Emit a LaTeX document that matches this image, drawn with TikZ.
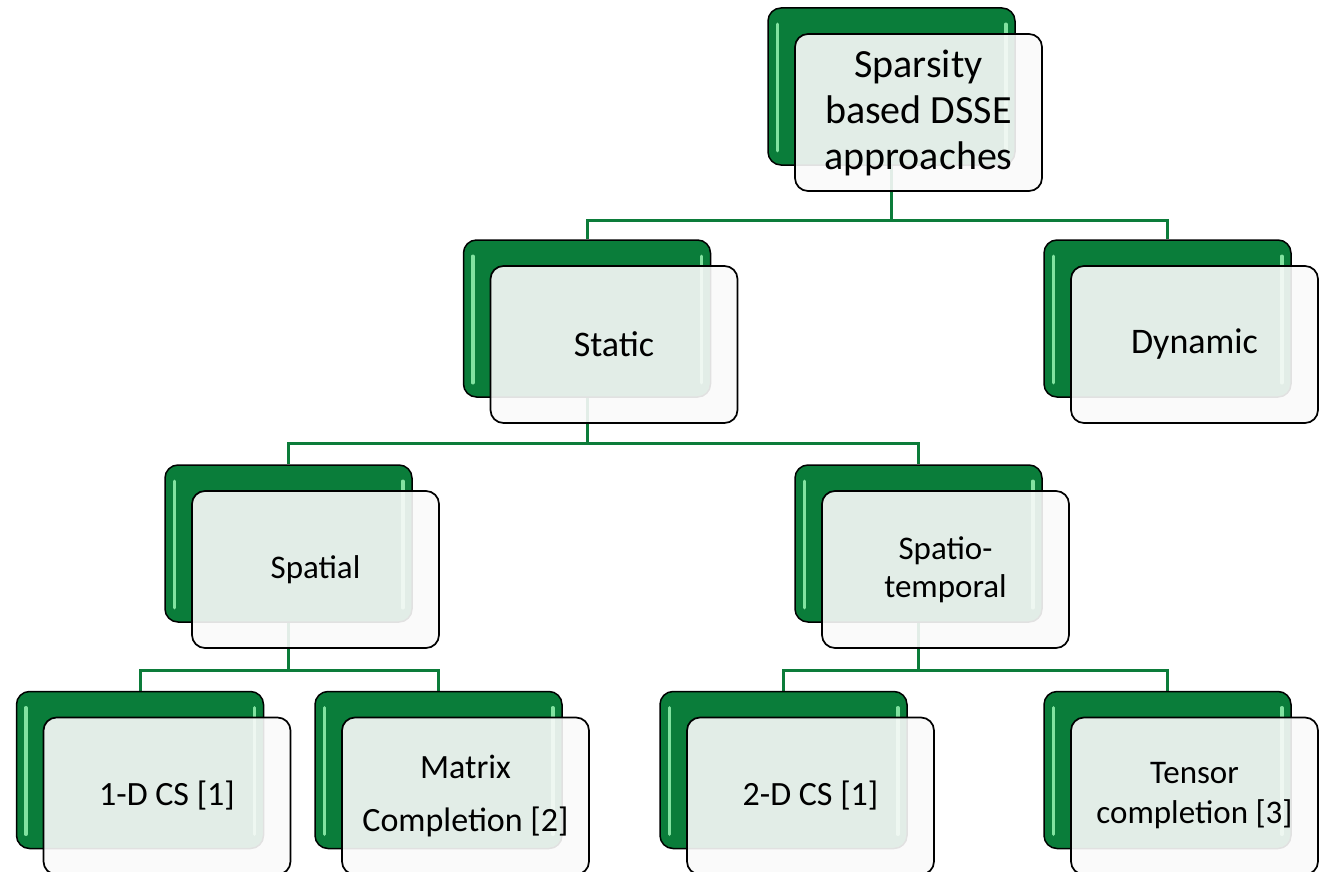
\documentclass[tikz,border=0pt]{standalone}
\usepackage{fontspec}
\setmainfont{Carlito}
\usetikzlibrary{backgrounds}

\definecolor{leafgreen}{RGB}{10,125,58}
\definecolor{shine}{RGB}{130,226,160}
\definecolor{wire}{RGB}{12,124,58}
\definecolor{paper}{RGB}{250,250,250}

\tikzset{
  backbox/.style={draw=black, line width=1.5pt, fill=leafgreen,
    rounded corners=13pt, minimum width=247pt, minimum height=157pt,
    inner sep=0pt},
  frontbox/.style={draw=black, line width=1.7pt, fill=paper,
    fill opacity=0.9, text opacity=1, rounded corners=13pt,
    minimum width=247pt, minimum height=157pt, align=center,
    inner sep=0pt},
  wireline/.style={draw=wire, line width=3pt},
  gleam/.style={draw=shine, line width=3.5pt, line cap=round}
}

% #1 name, #2/#3 centre of the green card, #4 font size, #5 line skip, #6 text
\newcommand\cardpair[6]{%
  \node[backbox] (#1-back) at (#2,#3) {};
  \draw[gleam] ([xshift=10pt,yshift=-17pt]#1-back.north west)
            -- ([xshift=10pt,yshift=15pt]#1-back.south west);
  \draw[gleam] ([xshift=-10pt,yshift=-17pt]#1-back.north east)
            -- ([xshift=-10pt,yshift=15pt]#1-back.south east);
  \node[frontbox, font=\fontsize{#4}{#5}\selectfont] (#1) at (#2+27,#3+26) {#6};
}

\begin{document}
\begin{tikzpicture}[x=1pt,y=-1pt]
  \useasboundingbox (0,0) rectangle (1325,872);

  \cardpair{root}{891.5}{86.5}{40}{46}{Sparsity\\based DSSE\\approaches}
  \cardpair{static}{587}{318.5}{36}{40}{Static}
  \cardpair{dynamic}{1167.5}{318.5}{36}{40}{Dynamic}
  \cardpair{spatial}{288.5}{543.5}{33}{36}{Spatial}
  \cardpair{spatio}{918.5}{543.5}{33}{38}{Spatio-\\temporal}
  \cardpair{oned}{140}{770}{34}{38}{1-D CS [1]}
  \cardpair{matrix}{438.5}{770}{34}{53}{Matrix\\Completion [2]}
  \cardpair{twod}{783.5}{770}{34}{38}{2-D CS [1]}
  \cardpair{tensor}{1167.5}{770}{33}{40}{Tensor\\completion [3]}

  \begin{scope}[on background layer]
    \draw[wireline] (root-back.south) -- (root-back.south |- 0,220)
      -| (static-back.north);
    \draw[wireline] (root-back.south |- 0,220) -| (dynamic-back.north);

    \draw[wireline] (static-back.south) -- (static-back.south |- 0,443)
      -| (spatial-back.north);
    \draw[wireline] (static-back.south |- 0,443) -| (spatio-back.north);

    \draw[wireline] (spatial-back.south) -- (spatial-back.south |- 0,670)
      -| (oned-back.north);
    \draw[wireline] (spatial-back.south |- 0,670) -| (matrix-back.north);

    \draw[wireline] (spatio-back.south) -- (spatio-back.south |- 0,670)
      -| (twod-back.north);
    \draw[wireline] (spatio-back.south |- 0,670) -| (tensor-back.north);
  \end{scope}
\end{tikzpicture}
\end{document}
